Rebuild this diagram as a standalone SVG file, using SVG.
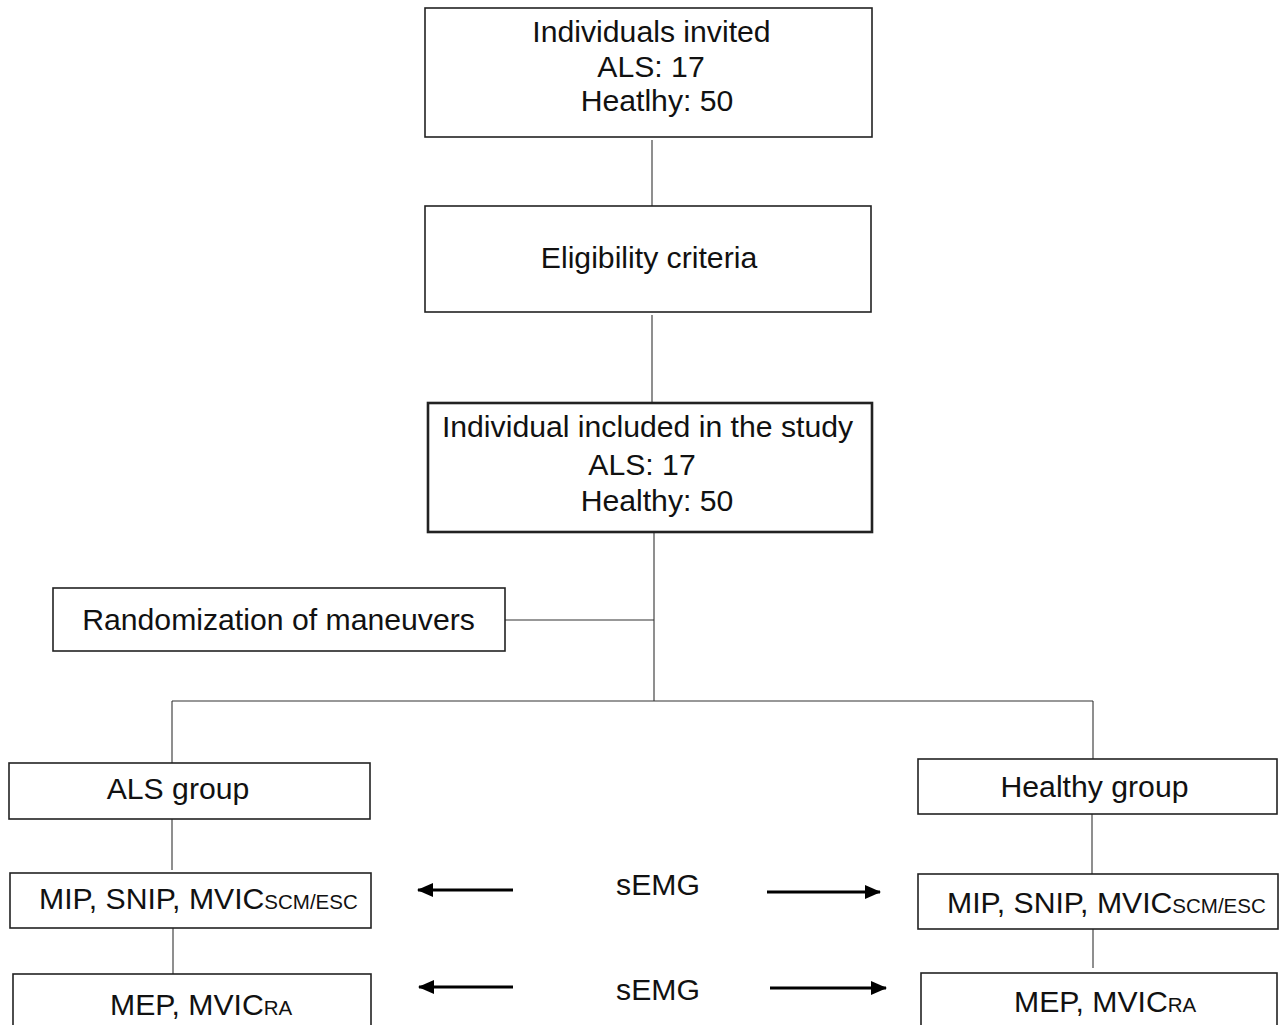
<svg xmlns="http://www.w3.org/2000/svg" width="1285" height="1025" viewBox="0 0 1285 1025">
<style>
.box{fill:#fff;stroke:#222;stroke-width:1.6}
.thick{stroke-width:2.6}
.t{font-family:"Liberation Sans",Arial,sans-serif;font-size:30.2px;fill:#111}
.m{text-anchor:middle}
.sub{font-size:20.5px}
.c{stroke:#333;stroke-width:1.1;fill:none}
.a{stroke:#000;stroke-width:3.2;fill:none}
</style>
<defs>
<marker id="ah" markerUnits="userSpaceOnUse" markerWidth="16" markerHeight="14" refX="15" refY="7" orient="auto">
<path d="M0,0 L16,7 L0,14 Z" fill="#000"/>
</marker>
</defs>
<rect width="1285" height="1025" fill="#fff"/>
<g id="connectors">
<line class="c" x1="652" y1="140" x2="652" y2="207"/>
<line class="c" x1="652" y1="315" x2="652" y2="402"/>
<line class="c" x1="654" y1="533" x2="654" y2="701"/>
<line class="c" x1="505" y1="620" x2="654" y2="620"/>
<line class="c" x1="172" y1="701" x2="1093" y2="701"/>
<line class="c" x1="172" y1="701" x2="172" y2="763"/>
<line class="c" x1="1093" y1="701" x2="1093" y2="759"/>
<line class="c" x1="172" y1="819" x2="172" y2="870"/>
<line class="c" x1="173" y1="928" x2="173" y2="974"/>
<line class="c" x1="1092" y1="814" x2="1092" y2="874"/>
<line class="c" x1="1093" y1="929" x2="1093" y2="968"/>
<line class="a" x1="513" y1="890" x2="418" y2="890" marker-end="url(#ah)"/>
<line class="a" x1="513" y1="987" x2="419" y2="987" marker-end="url(#ah)"/>
<line class="a" x1="767" y1="892" x2="880" y2="892" marker-end="url(#ah)"/>
<line class="a" x1="770" y1="988" x2="886" y2="988" marker-end="url(#ah)"/>
</g>
<g id="invited">
<rect class="box" x="425" y="8" width="447" height="129"/>
<text class="t m" x="651.5" y="42">Individuals invited</text>
<text class="t m" x="651" y="77">ALS: 17</text>
<text class="t m" x="657" y="111">Heatlhy: 50</text>
</g>
<g id="eligibility">
<rect class="box" x="425" y="206" width="446" height="106"/>
<text class="t m" x="649" y="268">Eligibility criteria</text>
</g>
<g id="included">
<rect class="box thick" x="428" y="403" width="444" height="129"/>
<text class="t m" x="647.5" y="437">Individual included in the study</text>
<text class="t m" x="642" y="475">ALS: 17</text>
<text class="t m" x="657" y="511">Healthy: 50</text>
</g>
<g id="randomization">
<rect class="box" x="53" y="588" width="452" height="63"/>
<text class="t m" x="278.5" y="630">Randomization of maneuvers</text>
</g>
<g id="als-group">
<rect class="box" x="9" y="763" width="361" height="56"/>
<text class="t m" x="178" y="799">ALS group</text>
</g>
<g id="healthy-group">
<rect class="box" x="918" y="759" width="359" height="55"/>
<text class="t m" x="1094.5" y="797">Healthy group</text>
</g>
<g id="als-mip">
<rect class="box" x="10" y="873" width="361" height="55"/>
<text class="t" x="39" y="909">MIP, SNIP, MVIC<tspan class="sub">SCM/ESC</tspan></text>
</g>
<g id="healthy-mip">
<rect class="box" x="918" y="874" width="360" height="55"/>
<text class="t" x="947" y="913">MIP, SNIP, MVIC<tspan class="sub">SCM/ESC</tspan></text>
</g>
<g id="als-mep">
<rect class="box" x="13" y="974" width="358" height="70"/>
<text class="t" x="110" y="1015">MEP, MVIC<tspan class="sub">RA</tspan></text>
</g>
<g id="healthy-mep">
<rect class="box" x="921" y="973" width="356" height="70"/>
<text class="t" x="1014" y="1012">MEP, MVIC<tspan class="sub">RA</tspan></text>
</g>
<g id="labels">
<text class="t m" x="658" y="895">sEMG</text>
<text class="t m" x="658" y="1000">sEMG</text>
</g>
</svg>
